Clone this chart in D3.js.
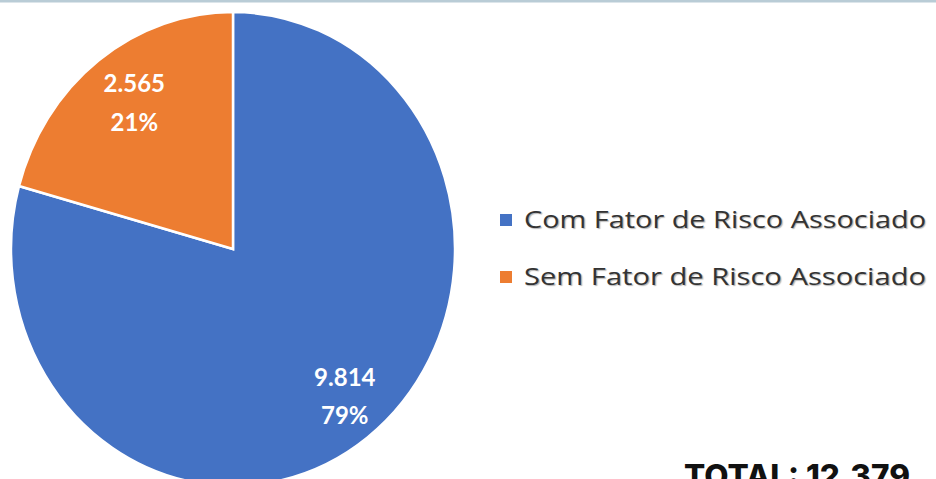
<!DOCTYPE html>
<html>
<head>
<meta charset="utf-8">
<script src="https://cdn.jsdelivr.net/npm/d3@7"></script>
<style>
  html, body { margin: 0; padding: 0; background: #fff; }
  svg { display: block; }
</style>
</head>
<body>
<svg id="chart" width="936" height="479"></svg>
<script>
const categories = ["Com Fator de Risco Associado", "Sem Fator de Risco Associado"]
const values = [9814, 2565]
const valueLabels = ["9.814", "2.565"]
const percentLabels = ["79%", "21%"]
const colors = ["#4472C4", "#ED7D31"]
const totalLabel = "TOTAL: 12.379"

const width = 936, height = 479
const svg = d3.select("#chart")

// thin rule along the top
svg.append("rect").attr("x", 0).attr("y", 0).attr("width", width).attr("height", 2.5)
    .attr("fill", "#b9ccd6")

const cx = 233, cy = 249, r = 222, sy = 237 / 222

let pie = d3.pie().sort(null).value(d => d)
    .startAngle(0).endAngle(2 * Math.PI)
let arcs = pie(values)
let arc = d3.arc().innerRadius(0).outerRadius(r)

let g = svg.append("g").attr("transform", `translate(${cx},${cy}) scale(1,${sy})`)
g.selectAll("path")
    .data(arcs)
    .join("path")
    .attr("fill", (d, i) => colors[i])
    .attr("stroke", "#fff")
    .attr("stroke-width", 2.5)
    .attr("stroke-linejoin", "miter")
    .attr("d", arc)

// labels: fraction along each slice's span, and fraction of the radius
const labelSpot = [[0.494, 0.80], [0.52, 0.76]]
let labels = svg.append("g").attr("transform", `translate(${cx},${cy})`)
arcs.forEach((d, i) => {
    let [f, k] = labelSpot[i]
    let a = d.startAngle + (d.endAngle - d.startAngle) * f
    let la = d3.arc().innerRadius(r * k).outerRadius(r * k).startAngle(a).endAngle(a)
    let [lx, ly] = la.centroid()
    ly *= sy
    let t = labels.append("text")
        .attr("x", lx).attr("y", ly)
        .attr("text-anchor", "middle")
        .attr("fill", "#fff")
        .attr("font-family", "Lato, 'Open Sans', sans-serif")
        .attr("font-weight", "bold")
        .attr("font-size", 24)
    t.append("tspan").attr("x", lx).attr("dy", "-0.45em").text(valueLabels[i])
    t.append("tspan").attr("x", lx).attr("dy", "1.6em").text(percentLabels[i])
})

// legend
let legend = svg.append("g").attr("transform", "translate(500,220)")
let items = legend.selectAll("g").data(categories).join("g")
    .attr("transform", (d, i) => `translate(0,${i * 57})`)
items.append("rect").attr("x", 0).attr("y", -6).attr("width", 12).attr("height", 12)
    .attr("fill", (d, i) => colors[i])
items.append("text")
    .attr("x", 24).attr("y", 0).attr("dy", "0.35em")
    .attr("fill", "#333")
    .attr("font-family", "'Open Sans', sans-serif")
    .attr("font-size", 24)
    .attr("textLength", 402)
    .attr("lengthAdjust", "spacingAndGlyphs")
    .style("text-shadow", "1px 1px 1px rgba(0,0,0,0.3)")
    .text(d => d)

svg.append("text")
    .attr("x", 684).attr("y", 487)
    .attr("fill", "#111")
    .attr("font-family", "Inter, 'Open Sans', sans-serif")
    .attr("font-weight", 800)
    .attr("font-size", 31)
    .attr("textLength", 226)
    .attr("lengthAdjust", "spacingAndGlyphs")
    .text(totalLabel)
</script>
</body>
</html>
